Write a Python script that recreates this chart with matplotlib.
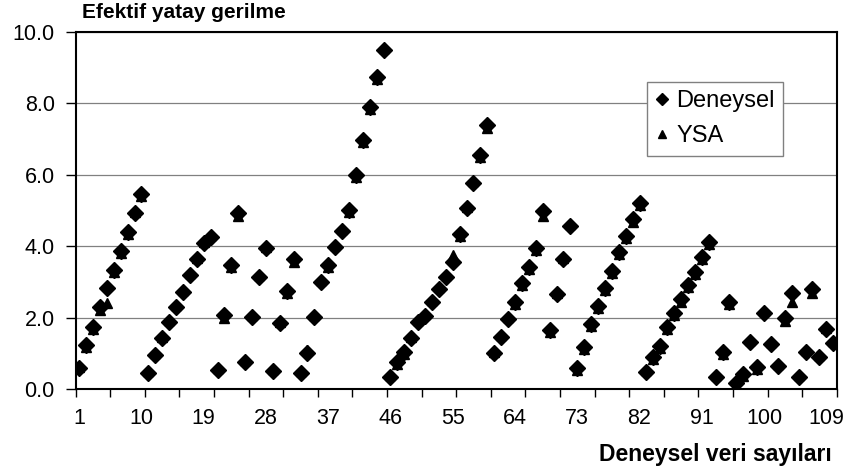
import numpy as np
import matplotlib
matplotlib.use("Agg")
import matplotlib.pyplot as plt

plt.rcParams['font.family'] = ['Liberation Sans', 'DejaVu Sans']

# measured values (Deneysel) and network output (YSA), points 1..110
deneysel = [0.58, 1.23, 1.73, 2.29, 2.82, 3.33, 3.87, 4.41, 4.92, 5.46,
            0.46, 0.95, 1.42, 1.87, 2.29, 2.73, 3.19, 3.63, 4.08, 4.27,
            0.53, 2.07, 3.47, 4.92, 0.77, 2.03, 3.15, 3.94, 0.51, 1.84,
            2.74, 3.63, 0.46, 1.00, 2.03, 3.00, 3.47, 3.97, 4.43, 5.01,
            5.99, 6.97, 7.89, 8.75, 9.50, 0.35, 0.75, 1.05, 1.42, 1.88,
            2.05, 2.45, 2.80, 3.15, 3.55, 4.35, 5.06, 5.78, 6.55, 7.39,
            1.00, 1.47, 1.96, 2.45, 2.96, 3.41, 3.94, 4.99, 1.65, 2.65,
            3.63, 4.57, 0.58, 1.19, 1.82, 2.32, 2.82, 3.31, 3.85, 4.29,
            4.75, 5.22, 0.49, 0.89, 1.20, 1.75, 2.14, 2.51, 2.91, 3.29,
            3.69, 4.13, 0.35, 1.05, 2.45, 0.16, 0.42, 1.33, 0.63, 2.14,
            1.26, 0.65, 2.00, 2.68, 0.35, 1.05, 2.79, 0.91, 1.67, 1.30]

ysa = [0.63, 1.17, 1.67, 2.20, 2.42, 3.27, 3.81, 4.35, 4.97, 5.40,
       0.51, 1.00, 1.47, 1.92, 2.34, 2.78, 3.24, 3.68, 4.13, 4.32,
       0.58, 2.00, 3.41, 4.85, 0.82, 2.08, 3.20, 3.99, 0.56, 1.89,
       2.68, 3.57, 0.51, 1.08, 2.08, 3.05, 3.41, 4.02, 4.48, 4.95,
       5.93, 6.91, 7.83, 8.69, 9.55, 0.40, 0.69, 0.99, 1.47, 1.93,
       2.10, 2.50, 2.85, 3.20, 3.75, 4.29, 5.11, 5.83, 6.49, 7.30,
       1.05, 1.52, 2.01, 2.39, 2.90, 3.35, 3.88, 4.85, 1.59, 2.70,
       3.68, 4.62, 0.52, 1.13, 1.76, 2.26, 2.76, 3.25, 3.79, 4.23,
       4.69, 5.16, 0.54, 0.83, 1.14, 1.69, 2.08, 2.45, 2.85, 3.23,
       3.63, 4.07, 0.40, 0.99, 2.39, 0.10, 0.36, 1.38, 0.57, 2.19,
       1.31, 0.70, 1.90, 2.45, 0.40, 1.10, 2.70, 0.96, 1.72, 1.35]

x = np.arange(1, len(deneysel) + 1)
label_pos = list(range(1, 110, 9))
y_ticks = [0, 2, 4, 6, 8, 10]

fig = plt.figure(figsize=(8.49, 4.68), dpi=100)
ax = fig.add_axes([75.7 / 849, 1 - 389 / 468, (836.7 - 75.7) / 849, (389 - 32) / 468])

ax.plot(x, deneysel, linestyle='none', marker='D', markersize=8,
        color='black', label='Deneysel', zorder=3)
ax.plot(x, ysa, linestyle='none', marker='^', markersize=6.5,
        color='black', label='YSA', zorder=3)

ax.set_xlim(0.5, len(x) + 0.5)
ax.set_ylim(0, 10)

# tick marks between categories, labels every 9th category
ax.set_xticks(np.arange(0.5, len(x) + 1, 5))
ax.set_xticklabels([])
ax.set_xticks(label_pos, minor=True)
ax.set_xticklabels([str(v) for v in label_pos], minor=True)
ax.tick_params(axis='x', which='major', direction='out', length=6, width=1)
ax.tick_params(axis='x', which='minor', length=0, pad=14, labelsize=15.5)

ax.set_yticks(y_ticks)
ax.set_yticklabels(['%.1f' % v for v in y_ticks])
ax.tick_params(axis='y', direction='out', length=7, width=1, pad=8, labelsize=15.5)

ax.grid(axis='y', color='#808080', linewidth=0.9)
ax.set_axisbelow(True)
for s in ax.spines.values():
    s.set_linewidth(1.5)
    s.set_color('black')

fig.text(82 / 849, 1 - 12 / 468, 'Efektif yatay gerilme', fontsize=15,
         fontweight='bold', ha='left', va='center')
fig.text(832 / 849, 1 - 455 / 468, 'Deneysel veri sayıları', fontsize=16.5,
         fontweight='bold', ha='right', va='center')

leg = ax.legend(loc='upper left', bbox_to_anchor=(647 / 849, 1 - 82 / 468),
                bbox_transform=fig.transFigure, fancybox=False, framealpha=1,
                edgecolor='#808080', fontsize=17, handlelength=0.6,
                handletextpad=0.3, labelspacing=0.55, borderpad=0.35,
                markerscale=0.8, borderaxespad=0)
leg.get_frame().set_linewidth(1)

plt.savefig('out.png', dpi=100)
